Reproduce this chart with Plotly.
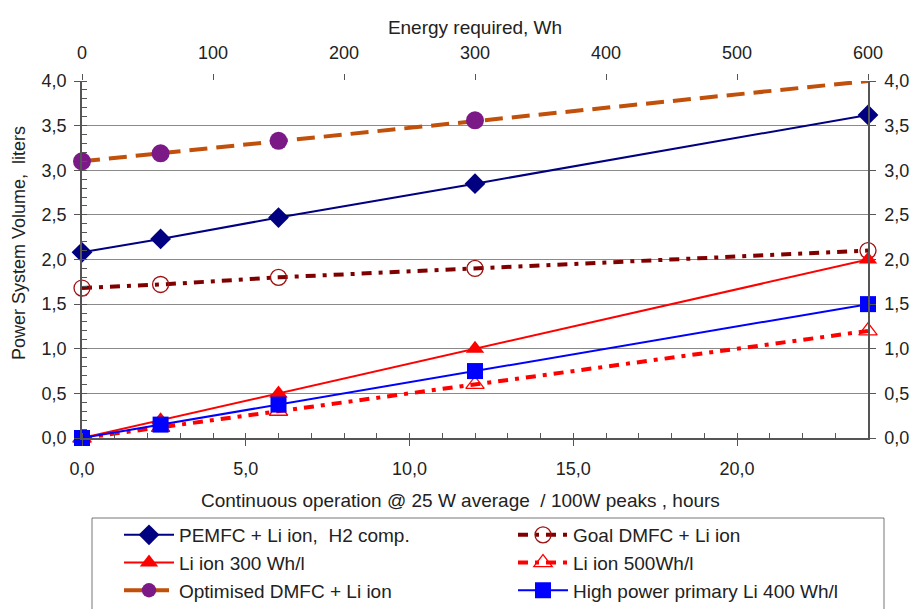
import plotly.graph_objects as go

hours = [0, 2.4, 6, 12, 24]
pemfc = [2.08, 2.23, 2.47, 2.85, 3.62]
goal_dmfc = [1.68, 1.72, 1.80, 1.90, 2.10]
li300 = [0, 0.20, 0.50, 1.00, 2.00]
li500 = [0, 0.12, 0.30, 0.60, 1.20]
opt_dmfc = [3.10, 3.19, 3.33, 3.56, 4.00]
hp_li400 = [0, 0.15, 0.375, 0.75, 1.50]

y_ticks = [0, 0.5, 1, 1.5, 2, 2.5, 3, 3.5, 4]
y_labels = ["0,0", "0,5", "1,0", "1,5", "2,0", "2,5", "3,0", "3,5", "4,0"]
x_ticks = [0, 5, 10, 15, 20]
x_labels = ["0,0", "5,0", "10,0", "15,0", "20,0"]
wh_ticks = [0, 100, 200, 300, 400, 500, 600]

FONT = "Liberation Sans, Arial, sans-serif"
NBSP = "\u00a0"
TICK = 18
TITLE = 19

# plot-area pixel geometry (for converting paper positions)
L, R, T, B = 82, 43, 81, 171
PW, PH = 911 - L - R, 609 - T - B

def px_x(px):
    return (px - L) / PW

def px_y(py):
    return (609 - B - py) / PH

fig = go.Figure()

def add(name, y, color, width, dash, msym, msize, mcolor, mline=None, msizes=None):
    fig.add_trace(go.Scatter(
        x=hours, y=y, name=name, mode="lines+markers", cliponaxis=False,
        line=dict(color=color, width=width, dash=dash),
        marker=dict(symbol=msym, size=msizes if msizes else msize, color=mcolor, opacity=1,
                    line=mline if mline else dict(width=0)),
    ))

add("PEMFC + Li ion," + NBSP + " H2 comp.", pemfc, "#000080", 2, "solid", "diamond", 16, "#000080")
add("Goal DMFC + Li ion", goal_dmfc, "#800000", 4, "10px,7px,4px,7px", "circle-open", 16, "#A01010",
    dict(width=1.3, color="#A01010"))
add("Li ion 300 Wh/l", li300, "#FF0000", 2, "solid", "triangle-up", 16, "#FF0000")
add("Li ion 500Wh/l", li500, "#FF0000", 4, "10px,7px,4px,7px", "triangle-up-open", 16, "#FF0000",
    dict(width=1.3, color="#FF0000"))
add("Optimised DMFC + Li ion", opt_dmfc, "#C0500A", 4, "18px,9px", "circle", 18, "#7B1A86",
    None, [18, 18, 18, 18, 0])
add("High power primary Li 400 Wh/l", hp_li400, "#0000FF", 2, "solid", "square", 16, "#0000FF")

# invisible traces for top / right axes
fig.add_trace(go.Scatter(x=[0, 600], y=[0, 0], xaxis="x2", yaxis="y", mode="lines",
                         line=dict(width=0), showlegend=False, hoverinfo="skip"))
fig.add_trace(go.Scatter(x=[0, 24], y=[0, 4], xaxis="x", yaxis="y2", mode="lines",
                         line=dict(width=0), showlegend=False, hoverinfo="skip"))

axis_col = "#555555"
fig.update_layout(
    width=911, height=609,
    margin=dict(l=L, r=R, t=T, b=B, autoexpand=False),
    paper_bgcolor="white", plot_bgcolor="white",
    font=dict(family=FONT, size=TICK, color="#222222"),
    showlegend=True,
    xaxis=dict(range=[0, 24], tickvals=x_ticks, ticktext=x_labels, showgrid=False,
               zeroline=False, showline=True, linecolor=axis_col, linewidth=1.5,
               ticks="outside", ticklen=6, tickcolor=axis_col, ticklabelstandoff=8,
               automargin=False,
               minor=dict(dtick=1, ticks="inside", ticklen=5, tickcolor=axis_col, showgrid=False),
               tickfont=dict(size=TICK)),
    xaxis2=dict(range=[0, 600], overlaying="x", side="top", tickvals=wh_ticks,
                showgrid=False, zeroline=False, showline=False, automargin=False,
                ticks="outside", ticklen=6, tickcolor=axis_col, ticklabelstandoff=8,
                title=dict(text="Energy required, Wh", font=dict(size=TITLE), standoff=3),
                tickfont=dict(size=TICK)),
    yaxis=dict(range=[0, 4], tickvals=y_ticks, ticktext=y_labels, showgrid=True,
               gridcolor="#8a8a8a", gridwidth=1, zeroline=False, showline=True,
               linecolor=axis_col, linewidth=1.5, ticks="outside", ticklen=6, tickcolor=axis_col,
               ticklabelstandoff=4, automargin=False,
               minor=dict(dtick=0.1, ticks="inside", ticklen=5, tickcolor=axis_col, showgrid=False),
               tickfont=dict(size=TICK)),
    yaxis2=dict(range=[0, 4], overlaying="y", side="right", tickvals=y_ticks, ticktext=y_labels,
                showgrid=False, zeroline=False, showline=True, linecolor=axis_col, linewidth=1.5,
                ticks="outside", ticklen=6, tickcolor=axis_col, ticklabelstandoff=5,
                automargin=False, tickfont=dict(size=TICK)),
    annotations=[
        dict(text="Continuous operation @ 25 W average" + NBSP + " / 100W peaks , hours",
             xref="paper", yref="paper", x=px_x(460), y=px_y(500),
             xanchor="center", yanchor="middle", showarrow=False,
             font=dict(size=TITLE, color="#222222")),
        dict(text="Power System Volume," + NBSP + " liters", textangle=-90,
             xref="paper", yref="paper", x=px_x(19), y=px_y(243),
             xanchor="center", yanchor="middle", showarrow=False,
             font=dict(size=18, color="#222222")),
    ],
    shapes=[dict(type="rect", xref="paper", yref="paper",
                 x0=px_x(92), x1=px_x(884), y0=px_y(518), y1=px_y(625),
                 line=dict(color="#777777", width=1), fillcolor="rgba(0,0,0,0)")],
    legend=dict(orientation="h", xref="container", yref="container", x=119/911, y=1-516/609,
                xanchor="left", yanchor="top", bgcolor="rgba(0,0,0,0)", borderwidth=0,
                font=dict(size=TITLE, color="#222222"),
                entrywidth=329, entrywidthmode="pixels", itemwidth=50,
                traceorder="normal"),
)

fig.write_html("out.html")
